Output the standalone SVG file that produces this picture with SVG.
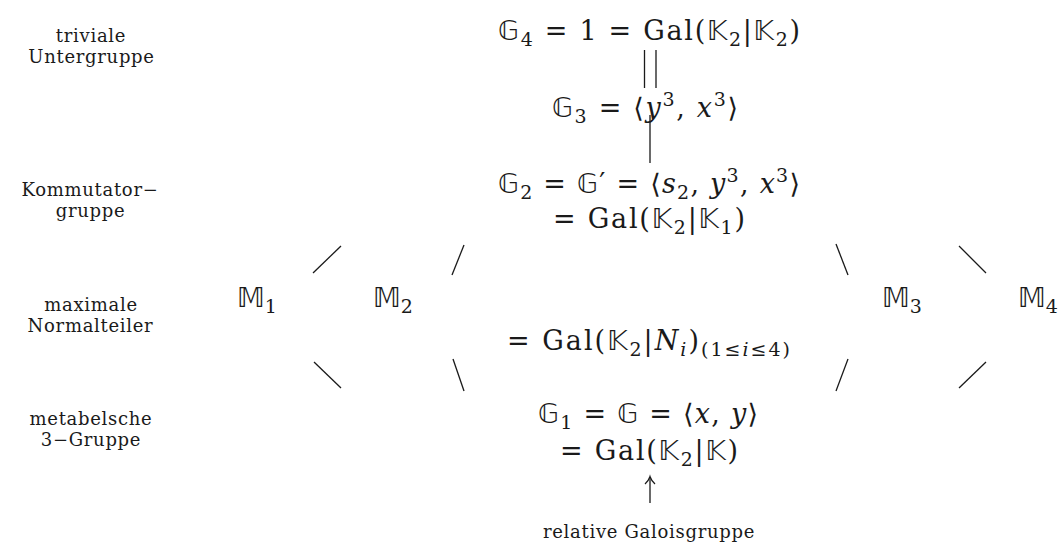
<svg xmlns="http://www.w3.org/2000/svg" width="1064" height="547" viewBox="0 0 1064 547">
<style>
text{fill:#1a1a1a;}
.m{font-family:'DejaVu Serif','Liberation Serif',serif;font-size:27px;}
.l{font-family:'DejaVu Serif','Liberation Serif',serif;font-size:18px;letter-spacing:0.7px;text-anchor:middle;}
.bb{font-family:'DejaVu Sans','DejaVu Serif',sans-serif;font-size:27px;}
.sub{font-size:19px;baseline-shift:-6px;}
.sup{font-size:19px;baseline-shift:11px;}
.i{font-style:italic;}
.c line{stroke:#1a1a1a;stroke-width:1.3;fill:none;}
</style>
<defs>
<marker id="ah" markerWidth="14" markerHeight="14" refX="10" refY="7" orient="auto" markerUnits="userSpaceOnUse">
<path d="M3,2 Q7,6 10.5,7 Q7,8 3,12" stroke="#1a1a1a" stroke-width="1.2" fill="none"/>
</marker>
</defs>

<g id="labels">
<text class="l" x="91" y="42">triviale</text>
<text class="l" x="91.5" y="63">Untergruppe</text>
<text class="l" x="90" y="196">Kommutator−</text>
<text class="l" x="90.5" y="217">gruppe</text>
<text class="l" x="91" y="311">maximale</text>
<text class="l" x="90.5" y="332">Normalteiler</text>
<text class="l" x="91" y="425">metabelsche</text>
<text class="l" x="91" y="446">3−Gruppe</text>
</g>

<g id="G4">
<text class="m" x="498" y="40" textLength="302" lengthAdjust="spacing"><tspan class="bb">𝔾</tspan><tspan class="sub">4</tspan> = 1 = Gal(<tspan class="bb">𝕂</tspan><tspan class="sub">2</tspan>|<tspan class="bb">𝕂</tspan><tspan class="sub">2</tspan>)</text>
</g>
<g id="G3">
<text class="m" x="552" y="117" textLength="186" lengthAdjust="spacing"><tspan class="bb">𝔾</tspan><tspan class="sub">3</tspan> = ⟨<tspan class="i">y</tspan><tspan class="sup">3</tspan>, <tspan class="i">x</tspan><tspan class="sup">3</tspan>⟩</text>
</g>
<g id="G2">
<text class="m" x="498" y="193" textLength="302" lengthAdjust="spacing"><tspan class="bb">𝔾</tspan><tspan class="sub">2</tspan> = <tspan class="bb">𝔾</tspan>′ = ⟨<tspan class="i">s</tspan><tspan class="sub">2</tspan>, <tspan class="i">y</tspan><tspan class="sup">3</tspan>, <tspan class="i">x</tspan><tspan class="sup">3</tspan>⟩</text>
<text class="m" x="553" y="228" textLength="192" lengthAdjust="spacing">= Gal(<tspan class="bb">𝕂</tspan><tspan class="sub">2</tspan>|<tspan class="bb">𝕂</tspan><tspan class="sub">1</tspan>)</text>
</g>
<g id="M1"><text class="m" x="237" y="307"><tspan class="bb">𝕄</tspan><tspan class="sub">1</tspan></text></g>
<g id="M2"><text class="m" x="373" y="307"><tspan class="bb">𝕄</tspan><tspan class="sub">2</tspan></text></g>
<g id="M3"><text class="m" x="882" y="307"><tspan class="bb">𝕄</tspan><tspan class="sub">3</tspan></text></g>
<g id="M4"><text class="m" x="1018" y="307"><tspan class="bb">𝕄</tspan><tspan class="sub">4</tspan></text></g>
<g id="Ni">
<text class="m" x="507" y="350" textLength="283" lengthAdjust="spacing">= Gal(<tspan class="bb">𝕂</tspan><tspan class="sub">2</tspan>|<tspan class="i">N</tspan><tspan class="sub i">i</tspan>)<tspan class="sub">(1≤<tspan class="i">i</tspan>≤4)</tspan></text>
</g>
<g id="G1">
<text class="m" x="538" y="423" textLength="220" lengthAdjust="spacing"><tspan class="bb">𝔾</tspan><tspan class="sub">1</tspan> = <tspan class="bb">𝔾</tspan> = ⟨<tspan class="i">x</tspan>, <tspan class="i">y</tspan>⟩</text>
<text class="m" x="560" y="460" textLength="178" lengthAdjust="spacing">= Gal(<tspan class="bb">𝕂</tspan><tspan class="sub">2</tspan>|<tspan class="bb">𝕂</tspan>)</text>
</g>
<g id="rel">
<text class="l" x="649" y="538">relative Galoisgruppe</text>
</g>

<g id="connectors" class="c">
<line x1="644.5" y1="50" x2="644.5" y2="88"/>
<line x1="656" y1="50" x2="656" y2="88"/>
<line x1="650" y1="115" x2="650" y2="163"/>
<line x1="313" y1="273" x2="341" y2="246"/>
<line x1="452" y1="275" x2="464" y2="245"/>
<line x1="836" y1="244" x2="848" y2="275"/>
<line x1="959" y1="246" x2="986" y2="273"/>
<line x1="314" y1="362" x2="341" y2="388"/>
<line x1="453" y1="359" x2="464" y2="391"/>
<line x1="836" y1="391" x2="848" y2="359"/>
<line x1="959" y1="388" x2="986" y2="362"/>
<line x1="650" y1="503" x2="650" y2="477" marker-end="url(#ah)"/>
</g>
</svg>
